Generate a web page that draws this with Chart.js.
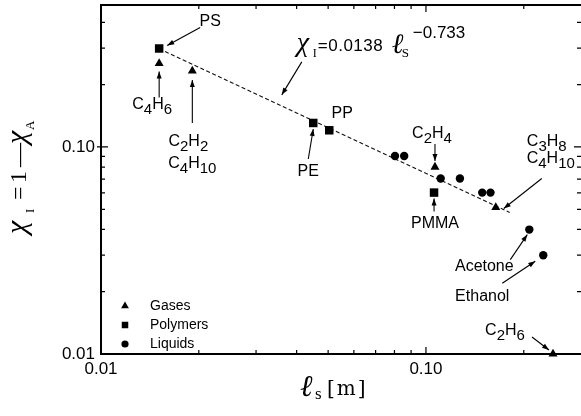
<!DOCTYPE html>
<html>
<head>
<meta charset="utf-8">
<script src="https://cdn.jsdelivr.net/npm/chart.js@4.4.1/dist/chart.umd.min.js"></script>
<style>
html, body { margin: 0; padding: 0; background: #fff; }
canvas { display: block; }
</style>
</head>
<body>
<canvas id="c" width="581" height="416"></canvas>
<script>
// values: l_s in m, chi_I
const gasesX = [0.0151, 0.0191, 0.1066, 0.164, 0.246];
const gasesY = [0.253, 0.233, 0.080, 0.051, 0.0100];
const polymersX = [0.0151, 0.0450, 0.0504, 0.1059];
const polymersY = [0.299, 0.1306, 0.1204, 0.0602];
const liquidsX = [0.0803, 0.0857, 0.111, 0.1272, 0.149, 0.158, 0.208, 0.2296];
const liquidsY = [0.0905, 0.0905, 0.0704, 0.0704, 0.0602, 0.0602, 0.0399, 0.0300];
// dashed fit chi_I = 0.0138 l_s^-0.733, end points as drawn
const fitX = [0.0151, 0.181];
const fitY = [0.298, 0.0483];
const xTickLabels = { 0.01: '0.01', 0.1: '0.10' };
const yTickLabels = { 0.01: '0.01', 0.1: '0.10' };

const X_MIN = 0.01, X_MAX = 0.3;
const Y_MIN = 0.01, Y_MAX = 0.485;

// labels pointing at points: [text, dx, dy] from the point, arrow tail->head offsets
const notes = [
    { x: polymersX[0], y: polymersY[0], lines: [['PS', 51, -27]], arrow: [41, -21, 8, -3] },
    { x: gasesX[0], y: gasesY[0], lines: [['C4H6', -7, 41]], arrow: [0, 34, 0, 8] },
    { x: gasesX[1], y: gasesY[1], lines: [['C2H2', -4, 71], ['C4H10', 0, 93]], arrow: [0, 52, 0, 9] },
    { x: polymersX[2], y: polymersY[2], lines: [['PP', 13, -17]] },
    { x: polymersX[1], y: polymersY[1], lines: [['PE', -5, 49]], arrow: [-5, 36, 0, 6] },
    { x: gasesX[2], y: gasesY[2], lines: [['C2H4', -3, -33]], arrow: [0, -23, 0, -6] },
    { x: gasesX[3], y: gasesY[3], lines: [['C3H8', 51, -66], ['C4H10', 55, -49]], arrow: [46, -29, 8, 1] },
    { x: polymersX[3], y: polymersY[3], lines: [['PMMA', 1, 31]], arrow: [0, 19, 0, 6] },
    { x: liquidsX[6], y: liquidsY[6], lines: [['Acetone', -45, 37]], arrow: [-19, 30, -2, 5] },
    { x: liquidsX[7], y: liquidsY[7], lines: [['Ethanol', -61, 41]], arrow: [-41, 28, -8, 6] },
    { x: gasesX[4], y: gasesY[4], lines: [['C2H6', -48, -23]], arrow: [-21, -17, -4, -4] }
];
// where the formula's arrow points (on the fit line)
const formulaAt = { x: 0.036, y: 0.158 };

function zip(xs, ys) { return xs.map((x, i) => ({ x: x, y: ys[i] })); }

function tickLabel(map) {
    return function (v) {
        for (const k in map) {
            if (Math.abs(v - +k) < +k * 1e-6) return map[k];
        }
        return '';
    };
}

function arrow(ctx, x1, y1, x2, y2) {
    ctx.beginPath();
    ctx.moveTo(x1, y1);
    ctx.lineTo(x2, y2);
    ctx.stroke();
    const a = Math.atan2(y2 - y1, x2 - x1), L = 7, W = 2.5;
    ctx.beginPath();
    ctx.moveTo(x2, y2);
    ctx.lineTo(x2 - L * Math.cos(a) + W * Math.sin(a), y2 - L * Math.sin(a) - W * Math.cos(a));
    ctx.lineTo(x2 - L * Math.cos(a) - W * Math.sin(a), y2 - L * Math.sin(a) + W * Math.cos(a));
    ctx.closePath();
    ctx.fill();
}

const MAIN_FONT = "16px 'Liberation Sans'";
const SUB_FONT = "15px 'Liberation Sans'";

// digits are drawn as subscripts
function chemText(ctx, s, cx, cy) {
    const parts = s.match(/[0-9]+|[^0-9]+/g);
    let w = 0;
    parts.forEach(p => {
        ctx.font = /\d/.test(p) ? SUB_FONT : MAIN_FONT;
        w += ctx.measureText(p).width;
    });
    let x = cx - w / 2;
    parts.forEach(p => {
        const sub = /\d/.test(p);
        ctx.font = sub ? SUB_FONT : MAIN_FONT;
        ctx.fillText(p, x, cy + (sub ? 5 : 0));
        x += ctx.measureText(p).width;
    });
}

function isWhole(v) {
    const s = v / Math.pow(10, Math.floor(Math.log10(v) + 1e-9));
    return Math.abs(s - Math.round(s)) < 1e-6 ? Math.round(s) : 0;
}

const decor = {
    id: 'decor',
    afterDraw(chart) {
        const ctx = chart.ctx;
        const a = chart.chartArea;
        const xs = chart.scales.x, ys = chart.scales.y;
        ctx.save();
        ctx.strokeStyle = '#000';
        ctx.fillStyle = '#000';

        // frame: left, bottom, top
        ctx.lineWidth = 2;
        ctx.beginPath();
        ctx.moveTo(a.right, a.top);
        ctx.lineTo(a.left, a.top);
        ctx.lineTo(a.left, a.bottom);
        ctx.lineTo(a.right, a.bottom);
        ctx.stroke();

        // inward ticks on all four sides
        ctx.lineWidth = 1.2;
        xs.ticks.forEach(t => {
            const s = isWhole(t.value);
            if (!s || t.value <= X_MIN * 1.0001 || t.value >= X_MAX * 0.9999) return;
            const p = xs.getPixelForValue(t.value);
            const len = s === 1 ? 7 : 4;
            ctx.beginPath();
            ctx.moveTo(p, a.bottom); ctx.lineTo(p, a.bottom - len);
            ctx.moveTo(p, a.top); ctx.lineTo(p, a.top + len);
            ctx.stroke();
        });
        ys.ticks.forEach(t => {
            const s = isWhole(t.value);
            if (!s || t.value <= Y_MIN * 1.0001 || t.value >= Y_MAX * 0.9999) return;
            const p = ys.getPixelForValue(t.value);
            const len = s === 1 ? 7 : 4;
            ctx.beginPath();
            ctx.moveTo(a.left - (s === 1 ? 4 : 0), p); ctx.lineTo(a.left + len, p);
            ctx.moveTo(a.right, p); ctx.lineTo(a.right - len, p);
            ctx.stroke();
        });

        // annotations
        ctx.lineWidth = 1.1;
        ctx.textAlign = 'left';
        ctx.textBaseline = 'middle';
        notes.forEach(n => {
            const px = xs.getPixelForValue(n.x), py = ys.getPixelForValue(n.y);
            n.lines.forEach(l => chemText(ctx, l[0], px + l[1], py + l[2]));
            if (n.arrow) {
                arrow(ctx, px + n.arrow[0], py + n.arrow[1], px + n.arrow[2], py + n.arrow[3]);
            }
        });

        // formula of the fit
        const fx = xs.getPixelForValue(formulaAt.x), fy = ys.getPixelForValue(formulaAt.y);
        arrow(ctx, fx + 20, fy - 44, fx, fy - 11);
        const bx = fx + 15, by = fy - 55;
        ctx.textBaseline = 'alphabetic';
        ctx.font = "italic 28px 'Liberation Serif'";
        ctx.fillText('χ', bx, by);
        ctx.font = "12px 'Liberation Serif'";
        ctx.fillText('I', bx + 16, by + 6);
        ctx.font = "17px 'Liberation Sans'";
        ctx.letterSpacing = '0.5px';
        ctx.fillText('=0.0138', bx + 21, by);
        ctx.letterSpacing = '0px';
        ctx.font = "italic 28px 'DejaVu Serif'";
        ctx.fillText('ℓ', bx + 95, by + 2);
        ctx.font = "13px 'Liberation Serif'";
        ctx.fillText('S', bx + 105, by + 6);
        ctx.font = "17px 'Liberation Sans'";
        ctx.fillText('−0.733', bx + 116, by - 13);

        // legend
        const items = [
            { ds: 0, r: 4.5 }, { ds: 1, r: 4.6 }, { ds: 2, r: 3.6 }
        ];
        ctx.font = "14px 'Liberation Sans'";
        ctx.textBaseline = 'middle';
        items.forEach((it, i) => {
            const ds = chart.data.datasets[it.ds];
            const ly = a.bottom - 48 + i * 19;
            Chart.helpers.drawPoint(ctx, { pointStyle: ds.pointStyle, radius: it.r, rotation: 0, borderWidth: 0 }, a.left + 24, ly);
            ctx.fillText(ds.label, a.left + 49, ly);
        });

        // y axis title, rotated
        ctx.save();
        ctx.translate(26, 180);
        ctx.rotate(-Math.PI / 2);
        ctx.textBaseline = 'alphabetic';
        ctx.font = "italic 30px 'Liberation Serif'";
        ctx.fillText('χ', -54, 0);
        ctx.font = "13px 'Liberation Serif'";
        ctx.fillText('I', -33, 8);
        ctx.font = "24px 'Liberation Serif'";
        ctx.fillText('=', -20, 0);
        ctx.fillText('1', -3, 0);
        ctx.fillText('—', 13, 0);
        ctx.font = "italic 30px 'Liberation Serif'";
        ctx.fillText('χ', 36, 0);
        ctx.font = "13px 'Liberation Serif'";
        ctx.fillText('A', 50, 8);
        ctx.restore();

        // x axis title
        ctx.textBaseline = 'alphabetic';
        ctx.font = "italic 30px 'DejaVu Serif'";
        ctx.fillText('ℓ', 300, 396);
        ctx.font = "17px 'Liberation Serif'";
        ctx.fillText('s', 315, 399);
        ctx.font = "20px 'DejaVu Serif'";
        ctx.letterSpacing = '2px';
        ctx.fillText('[m]', 327, 395);
        ctx.letterSpacing = '0px';

        ctx.restore();
    }
};

function noPad(scale) {
    scale.paddingLeft = 0;
    scale.paddingRight = 0;
    scale.paddingTop = 0;
    scale.paddingBottom = 0;
}

new Chart(document.getElementById('c'), {
    type: 'scatter',
    data: {
        datasets: [
            { label: 'Gases', data: zip(gasesX, gasesY), pointStyle: 'triangle', pointRadius: 5.2,
              backgroundColor: '#000', borderColor: '#000', borderWidth: 0, clip: false },
            { label: 'Polymers', data: zip(polymersX, polymersY), pointStyle: 'rect', pointRadius: 6,
              backgroundColor: '#000', borderColor: '#000', borderWidth: 0, clip: false },
            { label: 'Liquids', data: zip(liquidsX, liquidsY), pointStyle: 'circle', pointRadius: 4.2,
              backgroundColor: '#000', borderColor: '#000', borderWidth: 0, clip: false },
            { label: 'Fit', data: zip(fitX, fitY), showLine: true, pointRadius: 0,
              borderColor: '#111', borderWidth: 1.1, borderDash: [4, 2.5], order: 1 }
        ]
    },
    options: {
        responsive: false,
        animation: false,
        events: [],
        layout: { autoPadding: false, padding: { left: 0, top: 5, right: 0, bottom: 0 } },
        scales: {
            x: {
                type: 'logarithmic',
                min: X_MIN,
                max: X_MAX,
                grid: { display: false, drawTicks: false },
                border: { display: false },
                ticks: {
                    autoSkip: false, maxRotation: 0, minRotation: 0, padding: 5,
                    color: '#000', font: { family: 'Liberation Sans', size: 17 },
                    callback: tickLabel(xTickLabels)
                },
                afterFit(scale) { scale.height = 62; noPad(scale); }
            },
            y: {
                type: 'logarithmic',
                min: Y_MIN,
                max: Y_MAX,
                grid: { display: false, drawTicks: false },
                border: { display: false },
                ticks: {
                    autoSkip: false, padding: 6,
                    color: '#000', font: { family: 'Liberation Sans', size: 17 },
                    callback: tickLabel(yTickLabels)
                },
                afterFit(scale) { scale.width = 101; noPad(scale); }
            }
        },
        plugins: {
            legend: { display: false },
            tooltip: { enabled: false }
        }
    },
    plugins: [decor]
});
</script>
</body>
</html>
